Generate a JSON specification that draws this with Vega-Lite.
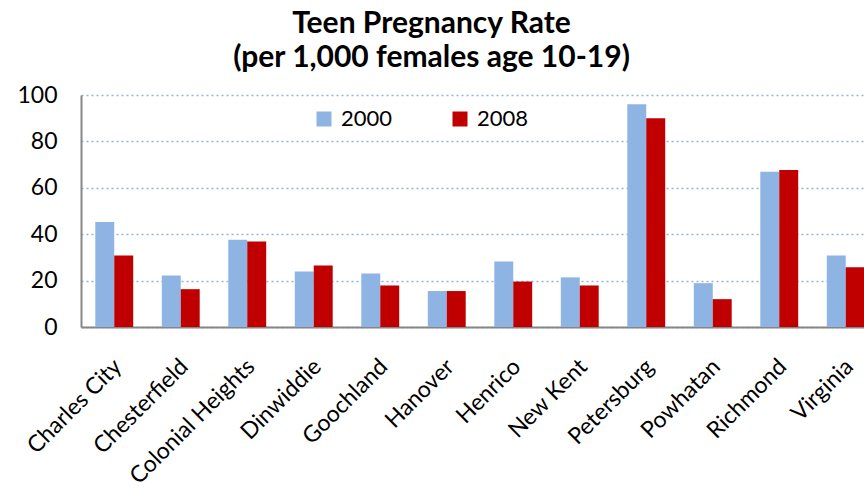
{
  "$schema": "https://vega.github.io/schema/vega-lite/v6.json",
  "autosize": "none",
  "width": 783,
  "height": 232,
  "padding": {"left": 81, "top": 95, "right": 0, "bottom": 163},
  "background": "white",
  "title": {
    "text": ["Teen Pregnancy Rate", "(per 1,000 females age 10-19)"],
    "font": "Lato",
    "fontSize": 30,
    "fontWeight": "bold",
    "color": "#000000",
    "lineHeight": 34,
    "anchor": "middle",
    "dx": -41,
    "offset": 11
  },
  "data": {
    "values": [
      {"county": "Charles City", "year": "2000", "rate": 45.3},
      {"county": "Charles City", "year": "2008", "rate": 30.8},
      {"county": "Chesterfield", "year": "2000", "rate": 22.2},
      {"county": "Chesterfield", "year": "2008", "rate": 16.3},
      {"county": "Colonial Heights", "year": "2000", "rate": 37.6},
      {"county": "Colonial Heights", "year": "2008", "rate": 36.9},
      {"county": "Dinwiddie", "year": "2000", "rate": 23.9},
      {"county": "Dinwiddie", "year": "2008", "rate": 26.5},
      {"county": "Goochland", "year": "2000", "rate": 23.1},
      {"county": "Goochland", "year": "2008", "rate": 17.9},
      {"county": "Hanover", "year": "2000", "rate": 15.5},
      {"county": "Hanover", "year": "2008", "rate": 15.5},
      {"county": "Henrico", "year": "2000", "rate": 28.2},
      {"county": "Henrico", "year": "2008", "rate": 19.6},
      {"county": "New Kent", "year": "2000", "rate": 21.4},
      {"county": "New Kent", "year": "2008", "rate": 17.9},
      {"county": "Petersburg", "year": "2000", "rate": 96.0},
      {"county": "Petersburg", "year": "2008", "rate": 90.0},
      {"county": "Powhatan", "year": "2000", "rate": 18.9},
      {"county": "Powhatan", "year": "2008", "rate": 12.0},
      {"county": "Richmond", "year": "2000", "rate": 66.9},
      {"county": "Richmond", "year": "2008", "rate": 67.7},
      {"county": "Virginia", "year": "2000", "rate": 30.8},
      {"county": "Virginia", "year": "2008", "rate": 25.8}
    ]
  },
  "mark": {"type": "bar", "clip": true},
  "encoding": {
    "x": {
      "field": "county",
      "type": "nominal",
      "sort": null,
      "title": null,
      "scale": {"range": [0, 798], "paddingInner": 0.43, "paddingOuter": 0.215},
      "axis": {
        "labelAngle": -45,
        "labelAlign": "right",
        "labelBaseline": "top",
        "labelFont": "Lato",
        "labelFontSize": 23,
        "labelColor": "#000000",
        "labelPadding": 28,
        "labelOffset": -4,
        "labelOverlap": false,
        "labelBound": false,
        "ticks": false,
        "domainColor": "#868686",
        "domainWidth": 2,
        "grid": false
      }
    },
    "xOffset": {
      "field": "year",
      "type": "nominal",
      "scale": {"paddingInner": 0, "paddingOuter": 0}
    },
    "y": {
      "field": "rate",
      "type": "quantitative",
      "title": null,
      "scale": {"domain": [0, 100], "nice": false},
      "axis": {
        "values": [0, 20, 40, 60, 80, 100],
        "labelFont": "Lato",
        "labelFontSize": 23,
        "labelColor": "#000000",
        "labelPadding": 24,
        "ticks": false,
        "domainColor": "#868686",
        "domainWidth": 2,
        "grid": true,
        "gridColor": "#95B3D7",
        "gridDash": [2, 3],
        "gridWidth": 1.5
      }
    },
    "color": {
      "field": "year",
      "type": "nominal",
      "scale": {"domain": ["2000", "2008"], "range": ["#8EB4E3", "#C00000"]},
      "legend": {
        "title": null,
        "orient": "none",
        "legendX": 232,
        "legendY": 13,
        "direction": "horizontal",
        "symbolType": "square",
        "symbolSize": 225,
        "symbolStrokeWidth": 0,
        "symbolOpacity": 1,
        "labelFont": "Lato",
        "labelFontSize": 22,
        "labelColor": "#000000",
        "labelOffset": 6,
        "columnPadding": 56
      }
    }
  },
  "config": {
    "view": {"stroke": null}
  }
}
